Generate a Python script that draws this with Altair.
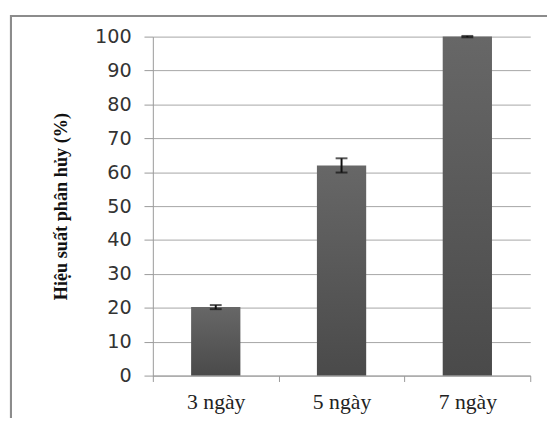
import altair as alt
import pandas as pd

days = ["3 ngày", "5 ngày", "7 ngày"]
values = [20.2, 62.0, 100.0]
errors = [0.6, 2.1, 0.2]
y_ticks = [0, 10, 20, 30, 40, 50, 60, 70, 80, 90, 100]

df = pd.DataFrame({"day": days, "value": values, "err": errors})

W, H = 383, 344

x_axis = alt.Axis(
    title=None,
    labelAngle=0,
    labelFont="Liberation Serif",
    labelFontSize=22,
    labelColor="#222",
    labelPadding=10,
    tickBand="extent",
    tickSize=6,
    tickColor="#999",
    domainColor="#999",
    grid=False,
)
x_scale = alt.Scale(paddingInner=0, paddingOuter=0)

y_axis = alt.Axis(
    title="Hiệu suất phân hủy (%)",
    values=y_ticks,
    tickCount=20,
    labelOverlap=False,
)
y_scale = alt.Scale(domain=[0, 100], nice=False)

X = alt.X("day:N", sort=days, scale=x_scale, axis=x_axis)
Y = alt.Y("value:Q", scale=y_scale, axis=y_axis)

bars = alt.Chart(df).mark_bar(
    size=50,
    color=alt.Gradient(
        gradient="linear",
        x1=0, y1=0, x2=0, y2=1,
        stops=[
            alt.GradientStop(color="#676767", offset=0),
            alt.GradientStop(color="#4a4a4a", offset=1),
        ],
    ),
).encode(x=X, y=Y)

errs = alt.Chart(df).mark_errorbar(
    ticks={"size": 12, "thickness": 2, "color": "#111"},
    rule={"strokeWidth": 2, "color": "#111"},
).encode(x=X, y=Y, yError="err:Q")

frame = alt.Chart(df).mark_rect(
    fill="transparent", stroke="#8c8c8c", strokeWidth=2
).encode(
    x=alt.value(-144),
    x2=alt.value(W + 40),
    y=alt.value(-21),
    y2=alt.value(H + 80),
)

chart = alt.layer(frame, bars, errs).properties(
    width=W,
    height=H,
    autosize=alt.AutoSizeParams(type="none"),
    padding={"left": 147, "top": 26, "right": 17, "bottom": 40},
    background="white",
).configure_view(stroke=None).configure_axisY(
    titleFont="Liberation Serif",
    titleFontWeight="bold",
    titleFontSize=18.5,
    titleColor="#111",
    titlePadding=24,
    labelFont="DejaVu Sans",
    labelFontSize=19.5,
    labelColor="#333",
    labelPadding=13,
    tickSize=9,
    tickColor="#999",
    domainColor="#999",
    gridColor="#a6a6a6",
    gridWidth=1,
)

chart.save("out.html", embed_options={"renderer": "svg", "actions": False})
